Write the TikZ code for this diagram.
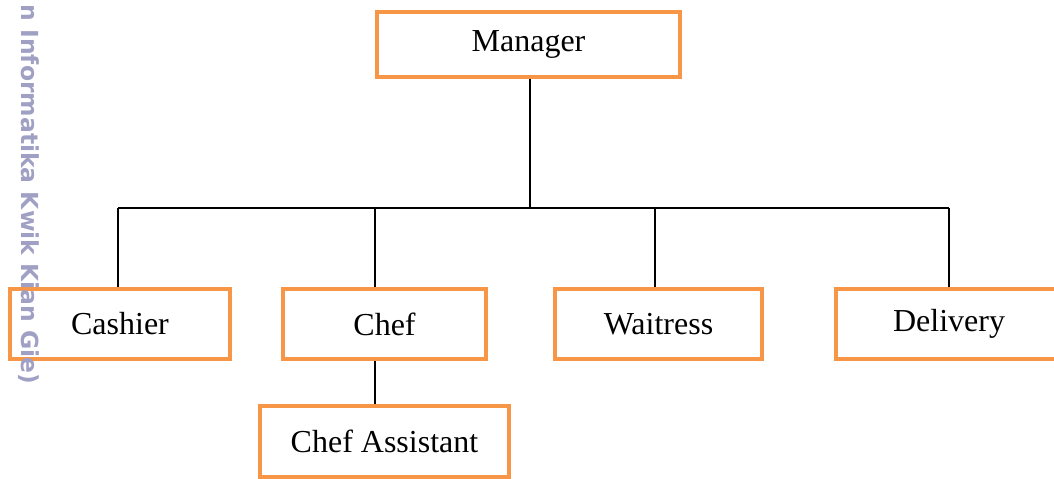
\documentclass[tikz,border=0pt]{standalone}
\usepackage{fontspec}
\setmainfont{Liberation Serif}
\newfontfamily\wmfont{DejaVu Sans}
\definecolor{boxorange}{RGB}{247,150,70}
\definecolor{wmgray}{RGB}{160,160,196}
\begin{document}
\begin{tikzpicture}[x=0.375pt, y=-0.375pt, every node/.style={font=\fontsize{12}{14}\selectfont}]
\tikzset{post/.style={draw=boxorange,line width=1.5pt,fill=white,align=center,inner sep=0pt},
         link/.style={draw=black,line width=0.75pt}}
\clip (0,0) rectangle (1054,479);
% positions
\node[post,minimum width=113.6pt,minimum height=24.4pt] (mgr) at (528.5,44.5) {Manager};
\node[post,minimum width=82.5pt,minimum height=26.25pt] (cash) at (120,324) {Cashier};
\node[post,minimum width=76.1pt,minimum height=26.25pt] (chef) at (384.5,324) {Chef};
\node[post,minimum width=77.6pt,minimum height=26.25pt] (wait) at (658.5,324) {Waitress};
\node[post,minimum width=84.8pt,minimum height=26.25pt] (deliv) at (949,324) {Delivery};
\node[post,minimum width=93.4pt,minimum height=26.6pt] (asst) at (384.5,441.5) {Chef Assistant};
% lines
\coordinate (bm) at (530,208);
\coordinate (b1) at (118,208);
\coordinate (b2) at (375,208);
\coordinate (b3) at (655,208);
\coordinate (b4) at (949,208);
\draw[link] (mgr.south -| bm) -- (bm);
\draw[link] (b1) -- (b4);
\draw[link] (b1) -- (b1 |- cash.north);
\draw[link] (b2) -- (b2 |- chef.north);
\draw[link] (b3) -- (b3 |- wait.north);
\draw[link] (b4) -- (b4 |- deliv.north);
\draw[link] (chef.south -| b2) -- (b2 |- asst.north);
% watermark
\node[font=\wmfont\bfseries\fontsize{8.8}{10}\selectfont,text=wmgray,rotate=-90,anchor=west,inner sep=0pt] (wm) at (29,4) {n Informatika Kwik Kian Gie)};
\end{tikzpicture}
\end{document}
